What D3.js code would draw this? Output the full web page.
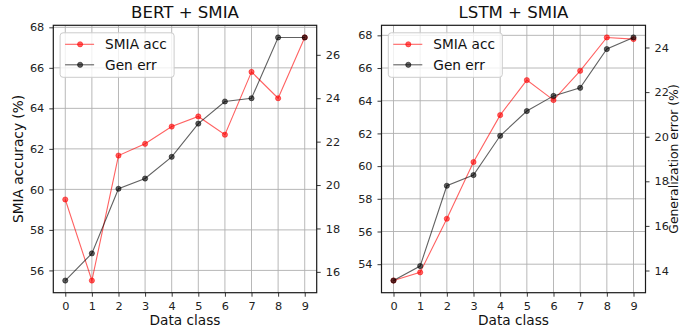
<!DOCTYPE html>
<html>
<head>
<meta charset="utf-8">
<script src="https://cdn.jsdelivr.net/npm/d3@7"></script>
<style>
  html, body { margin: 0; padding: 0; background: #fff; }
  svg { display: block; font-family: "DejaVu Sans", sans-serif; }
</style>
</head>
<body>
<svg id="chart" width="681" height="331"></svg>
<script>
// ---- data ----
const classes = [0, 1, 2, 3, 4, 5, 6, 7, 8, 9];
const bertAcc = [59.5, 55.5, 61.67, 62.25, 63.1, 63.6, 62.7, 65.8, 64.5, 67.5];
const bertErr = [15.6, 16.85, 19.83, 20.3, 21.3, 22.83, 23.85, 24.0, 26.8, 26.8];
const lstmAcc = [53.0, 53.5, 56.78, 60.25, 63.12, 65.26, 64.04, 65.83, 67.87, 67.77];
const lstmErr = [13.55, 14.2, 17.8, 18.28, 20.04, 21.15, 21.83, 22.19, 23.93, 24.45];
const xTicks = [0, 1, 2, 3, 4, 5, 6, 7, 8, 9];
const bertAccTicks = [56, 58, 60, 62, 64, 66, 68];
const bertErrTicks = [16, 18, 20, 22, 24, 26];
const lstmAccTicks = [54, 56, 58, 60, 62, 64, 66, 68];
const lstmErrTicks = [14, 16, 18, 20, 22, 24];
const titles = ["BERT + SMIA", "LSTM + SMIA"];
const seriesNames = ["SMIA acc", "Gen err"];
const xLabel = "Data class";
const yLabelLeft = "SMIA accuracy (%)";
const yLabelRight = "Generalization error (%)";

const svg = d3.select("#chart");
const RED = "#ff0000", BLACK = "#000000", ALPHA = 0.62;

function padDomain(vals) {
  const mn = d3.min(vals), mx = d3.max(vals), m = (mx - mn) * 0.05;
  return [mn - m, mx + m];
}

function panel(cfg) {
  const { x0, x1, y0, y1, acc, err, accTicks, errTicks, title, showLeftLabel, showRightLabel } = cfg;
  const g = svg.append("g");
  const x = d3.scaleLinear().domain([-0.45, 9.45]).range([x0, x1]);
  const yL = d3.scaleLinear().domain(padDomain(acc)).range([y1, y0]);
  const yR = d3.scaleLinear().domain(padDomain(err)).range([y1, y0]);

  // grid
  const grid = g.append("g").attr("stroke", "#b0b0b0").attr("stroke-width", 0.9);
  grid.selectAll("line.gx").data(xTicks).join("line")
    .attr("x1", d => x(d)).attr("x2", d => x(d)).attr("y1", y0).attr("y2", y1);
  grid.selectAll("line.gy").data(accTicks).join("line")
    .attr("x1", x0).attr("x2", x1).attr("y1", d => yL(d)).attr("y2", d => yL(d));

  // series
  function series(vals, y, color) {
    const sg = g.append("g");
    sg.append("path").datum(vals)
      .attr("fill", "none").attr("stroke", color).attr("stroke-opacity", ALPHA).attr("stroke-width", 1.1)
      .attr("d", d3.line().x((d, i) => x(classes[i])).y(d => y(d)));
    sg.selectAll("circle").data(vals).join("circle")
      .attr("cx", (d, i) => x(classes[i])).attr("cy", d => y(d)).attr("r", 2.6)
      .attr("fill", color).attr("fill-opacity", ALPHA)
      .attr("stroke", color).attr("stroke-opacity", ALPHA).attr("stroke-width", 0.8);
  }
  series(acc, yL, RED);
  series(err, yR, BLACK);

  // axes
  const fs = "11.3px";
  const axB = g.append("g").attr("transform", `translate(0,${y1})`)
    .call(d3.axisBottom(x).tickValues(xTicks).tickSize(4).tickPadding(5).tickFormat(d3.format("d")));
  const axL = g.append("g").attr("transform", `translate(${x0},0)`)
    .call(d3.axisLeft(yL).tickValues(accTicks).tickSize(4).tickPadding(5).tickFormat(d3.format("d")));
  const axR = g.append("g").attr("transform", `translate(${x1},0)`)
    .call(d3.axisRight(yR).tickValues(errTicks).tickSize(4).tickPadding(5).tickFormat(d3.format("d")));
  [axB, axL, axR].forEach(a => {
    a.select(".domain").remove();
    a.selectAll("text").attr("font-size", fs).attr("fill", "#222").attr("font-family", "DejaVu Sans");
    a.selectAll("line").attr("stroke", "#222").attr("stroke-width", 0.9);
  });
  // frame
  g.append("rect").attr("x", x0).attr("y", y0).attr("width", x1 - x0).attr("height", y1 - y0)
    .attr("fill", "none").attr("stroke", "#1a1a1a").attr("stroke-width", 1.2);

  // title
  g.append("text").attr("x", (x0 + x1) / 2).attr("y", 17.5).attr("text-anchor", "middle")
    .attr("font-size", "16.6px").attr("fill", "#111").text(title);
  // x label
  g.append("text").attr("x", (x0 + x1) / 2).attr("y", 325).attr("text-anchor", "middle")
    .attr("font-size", "13.7px").attr("fill", "#111").text(xLabel);
  if (showLeftLabel) {
    g.append("text").attr("transform", `translate(${x0 - 30},${(y0 + y1) / 2}) rotate(-90)`)
      .attr("text-anchor", "middle").attr("font-size", "13.7px").attr("fill", "#111").text(yLabelLeft);
  }
  if (showRightLabel) {
    g.append("text").attr("transform", `translate(678.2,${(y0 + y1) / 2}) rotate(-90)`)
      .attr("text-anchor", "middle").attr("font-size", "12.4px").attr("fill", "#111").text(yLabelRight);
  }

  // legend
  const lx = x0 + 6.8, ly = y0 + 7.5;
  const lg = g.append("g");
  lg.append("rect").attr("x", lx).attr("y", ly).attr("width", 114).attr("height", 44.5).attr("rx", 3)
    .attr("fill", "#fff").attr("fill-opacity", 0.8).attr("stroke", "#cccccc").attr("stroke-width", 1);
  [[RED, seriesNames[0]], [BLACK, seriesNames[1]]].forEach(([c, name], i) => {
    const yy = ly + 11.5 + i * 20.5;
    lg.append("line").attr("x1", lx + 5).attr("x2", lx + 34).attr("y1", yy).attr("y2", yy)
      .attr("stroke", c).attr("stroke-opacity", ALPHA).attr("stroke-width", 1.1);
    lg.append("circle").attr("cx", lx + 20).attr("cy", yy).attr("r", 2.6)
      .attr("fill", c).attr("fill-opacity", ALPHA).attr("stroke", c).attr("stroke-opacity", ALPHA).attr("stroke-width", 0.8);
    lg.append("text").attr("x", lx + 45).attr("y", yy).attr("dy", "0.36em")
      .attr("font-size", "13.7px").attr("fill", "#111").text(name);
  });
}

panel({ x0: 53.3, x1: 316.7, y0: 25.3, y1: 292.7, acc: bertAcc, err: bertErr,
  accTicks: bertAccTicks, errTicks: bertErrTicks, title: titles[0], showLeftLabel: true, showRightLabel: false });
panel({ x0: 381.5, x1: 645.5, y0: 25.3, y1: 292.7, acc: lstmAcc, err: lstmErr,
  accTicks: lstmAccTicks, errTicks: lstmErrTicks, title: titles[1], showLeftLabel: false, showRightLabel: true });
</script>
</body>
</html>
